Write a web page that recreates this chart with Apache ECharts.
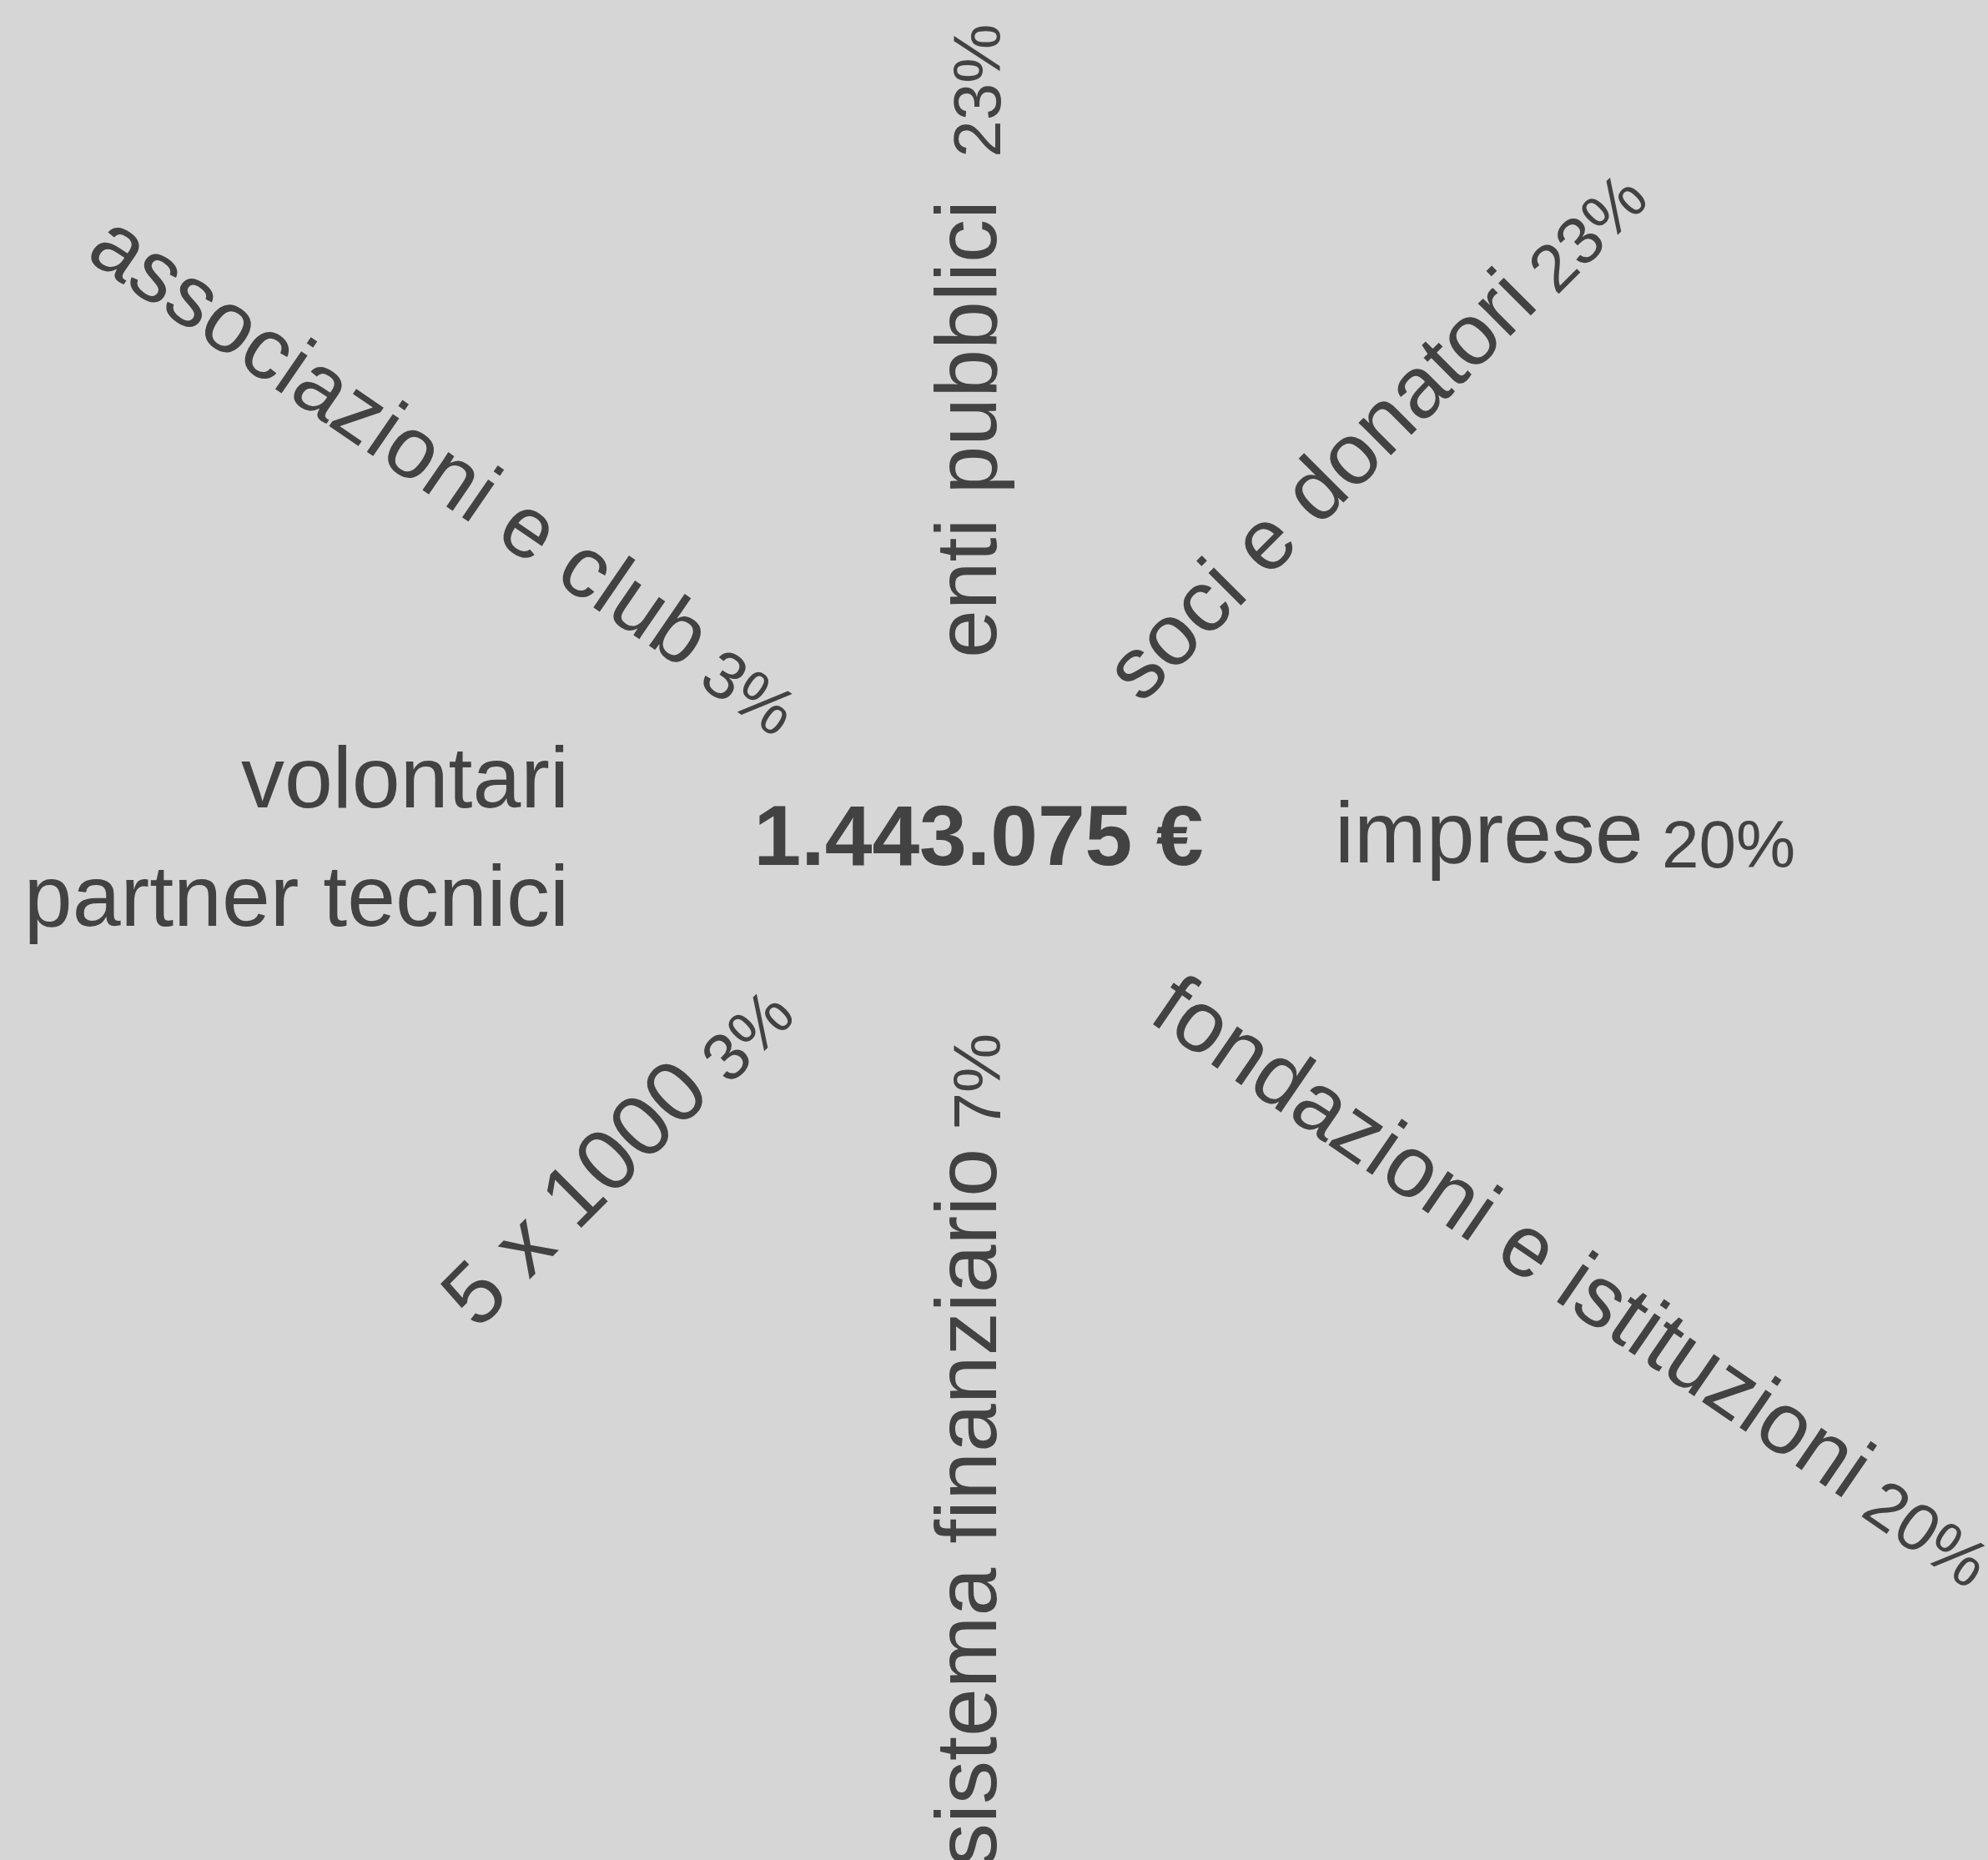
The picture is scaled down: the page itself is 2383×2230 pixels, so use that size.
<!DOCTYPE html>
<html>
<head>
<meta charset="utf-8">
<script src="https://cdn.jsdelivr.net/npm/echarts@6/dist/echarts.min.js"></script>
<style>
html, body { margin: 0; padding: 0; background: #d6d6d6; }
#chart { width: 2383px; height: 2230px; }
</style>
</head>
<body>
<div id="chart"></div>
<script>
// ---- data ----
const categories = ['imprese', 'soci e donatori', 'enti pubblici', 'associazioni e club',
  'volontari', 'partner tecnici', '5 x 1000', 'sistema finanziario', 'fondazioni e istituzioni'];
const shares = [20, 23, 23, 3, null, null, 3, 7, 20];
const totalAmount = 1443075;

// ---- layout (polar position of each label's inner baseline end, text rotation, alignment) ----
const labelRadius = [427, 275, 251, 287, 495.7, 496.4, 283, 201.3, 273];
const labelAngle  = [0.3, 44.3, 84.7, 147.1, 172.1, 188.5, 219.3, 276.6, 317.1];
const textRotation = [0, 45, 90, -34.5, 0, 0, 45, 90, -34.5];
const textAlign = ['left', 'left', 'left', 'right', 'right', 'right', 'right', 'right', 'left'];
const wideGap = [false, false, true, false, false, false, false, false, false];

const FONT = "'Liberation Sans', Arial, Helvetica, sans-serif";
const TEXT = '#424242';
const LABEL_SIZE = 104;
const PCT_SIZE = 80;
const CENTER_SIZE = 102;
const K = 0.30; // baseline offset below the 'middle' line, in em

function formatAmount(n) {
  return String(n).replace(/\B(?=(\d{3})+(?!\d))/g, '.') + ' \u20AC';
}

const items = categories.map((c, i) => ({
  text: c + (shares[i] != null ? (wideGap[i] ? ' ' : '') + '{p| ' + shares[i] + '%}' : ''),
  rot: textRotation[i],
  align: textAlign[i],
  fs: LABEL_SIZE,
  fw: 'normal',
  value: [labelRadius[i], labelAngle[i]]
}));
items.push({ text: formatAmount(totalAmount), rot: 0, align: 'center', fs: CENTER_SIZE, fw: 'bold', value: [0, 0] });

const chart = echarts.init(document.getElementById('chart'));
chart.setOption({
  backgroundColor: '#d6d6d6',
  animation: false,
  polar: { center: [1173, 1039], radius: 1000 },
  angleAxis: {
    type: 'value', min: 0, max: 360, startAngle: 0, clockwise: false,
    axisLine: { show: false }, axisTick: { show: false }, axisLabel: { show: false },
    splitLine: { show: false }, splitArea: { show: false }
  },
  radiusAxis: {
    type: 'value', min: 0, max: 1000,
    axisLine: { show: false }, axisTick: { show: false }, axisLabel: { show: false },
    splitLine: { show: false }, splitArea: { show: false }
  },
  series: [{
    type: 'custom',
    coordinateSystem: 'polar',
    silent: true,
    encode: { radius: 0, angle: 1 },
    data: items.map(it => it.value),
    renderItem: function (params, api) {
      const it = items[params.dataIndex];
      const p = api.coord([api.value(0), api.value(1)]);
      return {
        type: 'text',
        x: p[0],
        y: p[1],
        rotation: it.rot * Math.PI / 180,
        style: {
          x: 0,
          y: -K * it.fs,
          text: it.text,
          align: it.align,
          verticalAlign: 'middle',
          fill: TEXT,
          fontFamily: FONT,
          fontSize: it.fs,
          fontWeight: it.fw,
          lineHeight: it.fs,
          rich: {
            p: {
              fontFamily: FONT, fontSize: PCT_SIZE, fill: TEXT,
              lineHeight: 87, verticalAlign: 'bottom'
            }
          }
        }
      };
    }
  }]
});
</script>
</body>
</html>
